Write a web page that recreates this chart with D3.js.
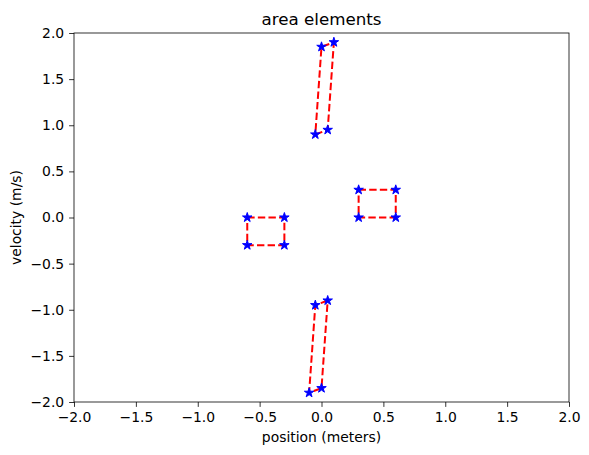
<!DOCTYPE html>
<html>
<head>
<meta charset="utf-8">
<script src="https://cdn.jsdelivr.net/npm/d3@7"></script>
<style>
  body { margin: 0; background: #fff; }
  text { font-family: "DejaVu Sans", sans-serif; fill: #000; }
</style>
</head>
<body>
<script>
// Corner points of each area element (position, velocity)
var topX = [-0.05, 0.05, 0.1, 0.0];
var topY = [0.9, 0.95, 1.9, 1.85];
var leftX = [-0.6, -0.3, -0.3, -0.6];
var leftY = [0.0, 0.0, -0.3, -0.3];
var rightX = [0.3, 0.6, 0.6, 0.3];
var rightY = [0.3, 0.3, 0.0, 0.0];
var bottomX = [0.05, -0.05, -0.1, 0.0];
var bottomY = [-0.9, -0.95, -1.9, -1.85];

var xTicks = [-2.0, -1.5, -1.0, -0.5, 0.0, 0.5, 1.0, 1.5, 2.0];
var yTicks = [-2.0, -1.5, -1.0, -0.5, 0.0, 0.5, 1.0, 1.5, 2.0];

window.onload = drawChart();

function drawChart(){
    var width = 589,
        height = 455;
    var margin = {left: 74, right: 20, top: 33, bottom: 53};

    var svg = d3.select("body")
        .append("svg")
        .attr("width", width)
        .attr("height", height);

    var x = d3.scaleLinear()
        .domain([-2, 2])
        .range([margin.left, width - margin.right]);
    var y = d3.scaleLinear()
        .domain([-2, 2])
        .range([height - margin.bottom, margin.top]);

    var fmt = function(d){ return d3.format(".1f")(d).replace("-", "\u2212"); };

    // Axes
    var xAxis = svg.append("g")
        .attr("transform", "translate(0," + (height - margin.bottom) + ")")
        .call(d3.axisBottom(x).tickValues(xTicks).tickFormat(fmt).tickSize(4.9).tickPadding(4.9));
    var yAxis = svg.append("g")
        .attr("transform", "translate(" + margin.left + ",0)")
        .call(d3.axisLeft(y).tickValues(yTicks).tickFormat(fmt).tickSize(4.9).tickPadding(4.9));
    [xAxis, yAxis].forEach(function(a){
        a.selectAll("text").style("font-size", "13.9px").style("font-family", "DejaVu Sans");
        a.selectAll("line").attr("stroke", "#000").attr("stroke-width", 0.8);
        a.select(".domain").remove();
    });

    // Frame
    svg.append("rect")
        .attr("x", x(-2))
        .attr("y", y(2))
        .attr("width", x(2) - x(-2))
        .attr("height", y(-2) - y(2))
        .attr("fill", "none")
        .attr("stroke", "#000")
        .attr("stroke-width", 0.8);

    // Area elements
    var shapes = [
        {xs: topX, ys: topY},
        {xs: leftX, ys: leftY},
        {xs: rightX, ys: rightY},
        {xs: bottomX, ys: bottomY}
    ];

    var line = d3.line()
        .x(function(d){ return x(d[0]); })
        .y(function(d){ return y(d[1]); });

    var star = d3.symbol().type(d3.symbolStar).size(28);

    shapes.forEach(function(s){
        var pts = s.xs.map(function(v, i){ return [v, s.ys[i]]; });
        var closed = pts.concat([pts[0]]);

        svg.append("path")
            .datum(closed)
            .attr("d", line)
            .attr("fill", "none")
            .attr("stroke", "#ff0000")
            .attr("stroke-width", 2)
            .attr("stroke-dasharray", "7.4,3.2");

        svg.selectAll(null)
            .data(pts)
            .enter()
            .append("path")
            .attr("d", star)
            .attr("transform", function(d){ return "translate(" + x(d[0]) + "," + y(d[1]) + ")"; })
            .attr("fill", "#0000ff")
            .attr("stroke", "#0000ff")
            .attr("stroke-width", 1);
    });

    // Title and labels
    svg.append("text")
        .attr("x", (x(-2) + x(2)) / 2)
        .attr("y", margin.top - 8)
        .attr("text-anchor", "middle")
        .style("font-size", "16.7px")
        .text("area elements");

    svg.append("text")
        .attr("x", (x(-2) + x(2)) / 2)
        .attr("y", height - 13)
        .attr("text-anchor", "middle")
        .style("font-size", "13.9px")
        .text("position (meters)");

    svg.append("text")
        .attr("transform", "translate(21," + ((y(-2) + y(2)) / 2) + ") rotate(-90)")
        .attr("text-anchor", "middle")
        .style("font-size", "13.9px")
        .text("velocity (m/s)");
}
</script>
</body>
</html>
